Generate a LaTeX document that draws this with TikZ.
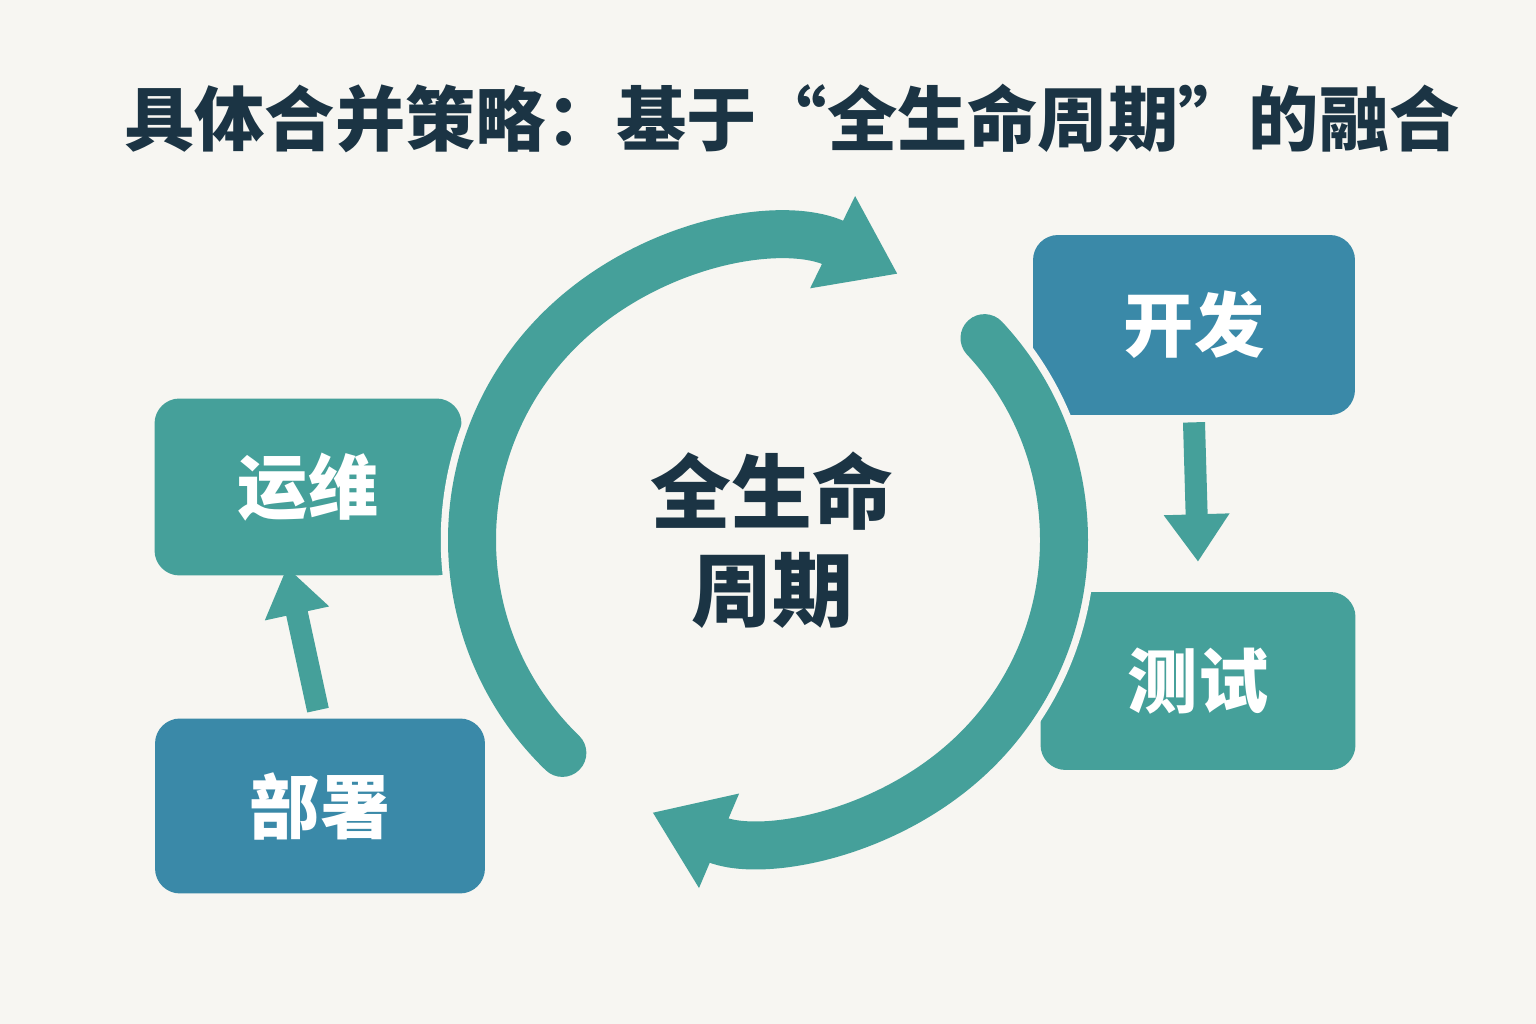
\documentclass[tikz,border=0pt]{standalone}
\usepackage{fontspec}
\setmainfont{Noto Sans CJK SC}
\usetikzlibrary{arrows.meta}
\definecolor{bgc}{HTML}{F7F6F2}
\definecolor{tealc}{HTML}{45A09A}
\definecolor{bluec}{HTML}{3A89A8}
\definecolor{darkc}{HTML}{1B3444}
\begin{document}
\begin{tikzpicture}[x=0.02cm,y=0.02cm,
  stage/.style={rectangle,rounded corners=0.5cm,text=white,font=\bfseries\fontsize{40}{44}\selectfont},
  ring/.style={line width=0.96cm,tealc},
  halo/.style={line width=1.25cm,bgc},
  flow/.style={line width=0.44cm,tealc,-{Triangle[width=1.25cm,length=0.95cm]}}]

\fill[bgc] (0,0) rectangle (1536,1024);

\node[font=\bfseries\fontsize{40}{44}\selectfont,text=darkc] (title) at (792,906) {具体合并策略：基于“全生命周期”的融合};

\node[stage,fill=bluec,minimum width=6.44cm,minimum height=3.6cm] (kf) at (1194,699) {开发};
\node[stage,fill=tealc,minimum width=6.3cm,minimum height=3.56cm] (cs) at (1198,343) {测试};
\node[stage,fill=tealc,minimum width=6.14cm,minimum height=3.54cm] (yw) at (308,537) {运维};
\node[stage,fill=bluec,minimum width=6.6cm,minimum height=3.5cm] (bs) at (320,218) {部署};

% lifecycle ring
\coordinate (ctr) at (768,484);
\draw[halo] (ctr) ++(226:296) arc[start angle=226,end angle=64,radius=296];
\draw[halo] (ctr) ++(43:296) arc[start angle=43,end angle=-113,radius=296];
\draw[ring,line cap=round,-{Triangle[width=1.95cm,length=1.45cm]}] (ctr) ++(226:296) arc[start angle=226,end angle=64,radius=296];
\draw[ring,line cap=round,-{Triangle[width=1.95cm,length=1.45cm]}] (ctr) ++(43:296) arc[start angle=43,end angle=-113,radius=296];

\node[font=\bfseries\fontsize{46}{56}\selectfont,text=darkc,align=center] (core) at (772,484) {全生命\\周期};

\draw[flow] (kf.south) ++(0,-7) -- ([yshift=17]cs.north);
\draw[flow] (bs.north) ++(-2,8) -- ([xshift=-12,yshift=5]yw.south);
\end{tikzpicture}
\end{document}
